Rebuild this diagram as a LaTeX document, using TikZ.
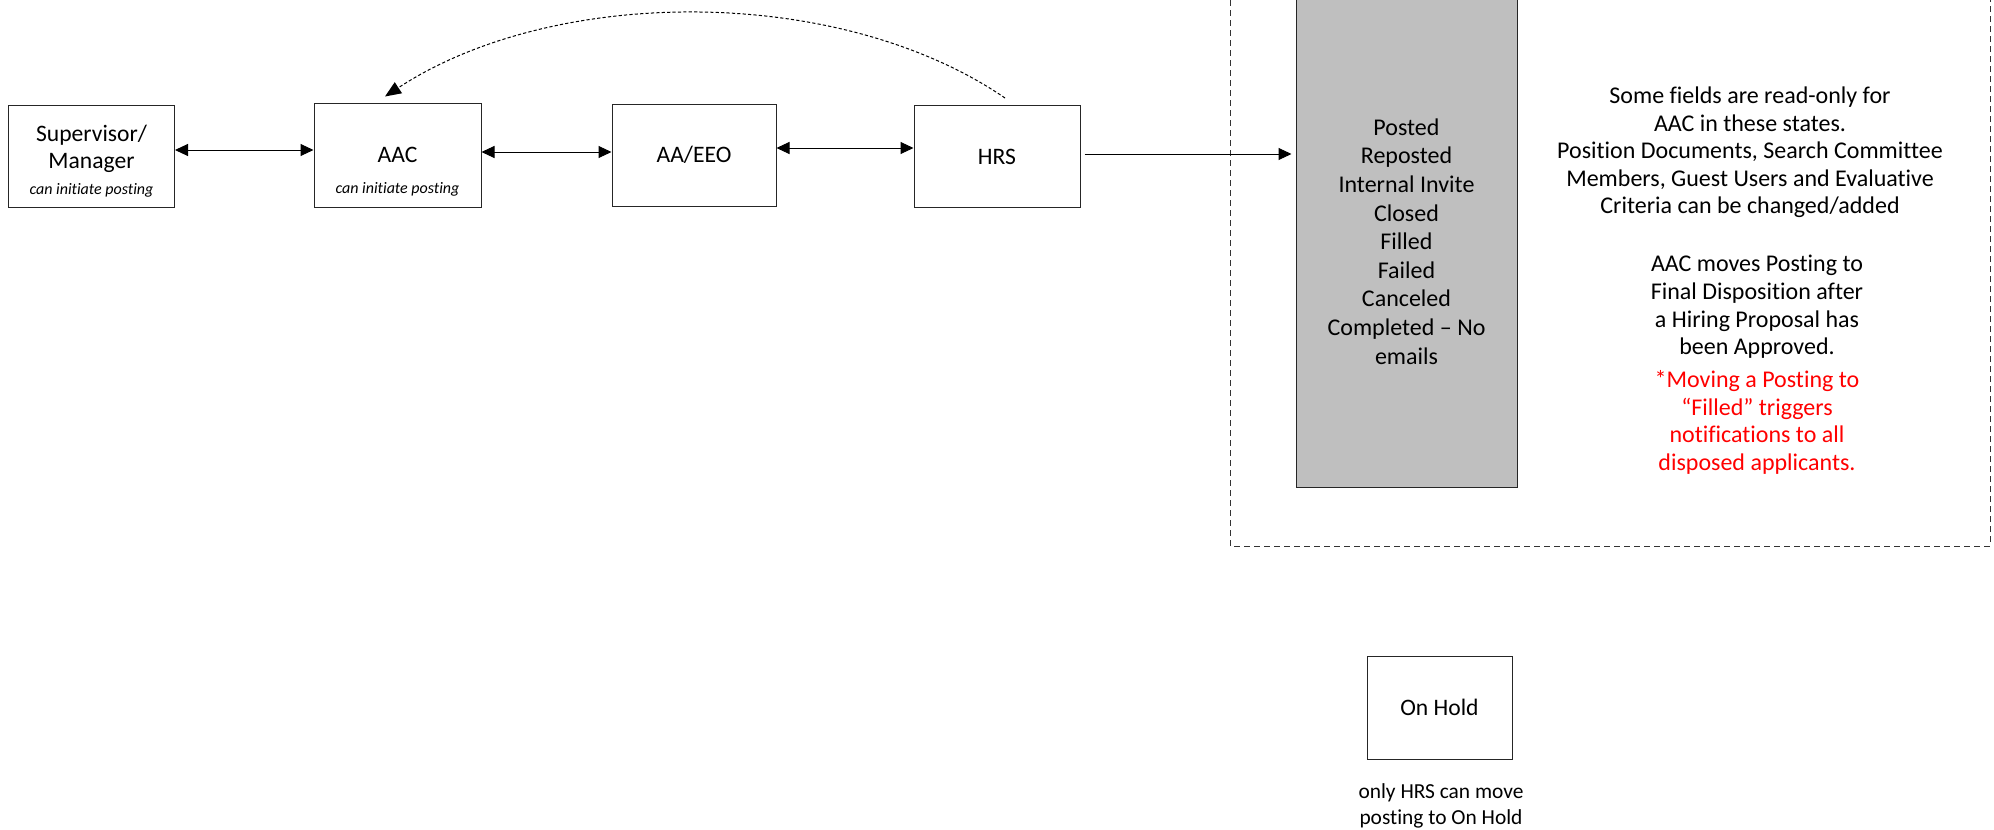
\documentclass[tikz,border=0pt]{standalone}
\usepackage{fontspec}
\setmainfont{Carlito}[Ligatures=CommonOff]
\usetikzlibrary{arrows.meta,positioning}
\definecolor{stategray}{RGB}{191,191,191}
\definecolor{notered}{RGB}{255,0,0}
\tikzset{
  role/.style={draw=black!85,line width=0.5pt,minimum width=83pt,minimum height=51pt,
    inner sep=2pt,align=center,font=\fontsize{11.8}{13.2}\selectfont},
  note/.style={align=center,font=\fontsize{12}{13.8}\selectfont},
  hint/.style={font=\fontsize{8}{9}\selectfont\itshape,inner sep=1pt},
  link/.style={{Triangle[length=6.5pt,width=6pt]}-{Triangle[length=6.5pt,width=6pt]},line width=0.5pt},
  push/.style={-{Triangle[length=6.5pt,width=6pt]},line width=0.5pt},
  back/.style={-{Triangle[length=8pt,width=6.5pt]},line width=0.5pt,dash pattern=on 1.6pt off 1.1pt}
}

\begin{document}
\begin{tikzpicture}[x=0.5pt,y=-0.5pt]
  \useasboundingbox (0,0) rectangle (1994,830);
  % posting roles
  \node[role,text depth=9.5pt] (sup) at (91.5,156.5) {Supervisor/\\Manager};
  \node[hint,above=4pt] at (sup.south) {can initiate posting};
  \node[role,minimum width=83.5pt,minimum height=52pt] (aac) at (397.5,155) {AAC};
  \node[hint,above=4.5pt] at (aac.south) {can initiate posting};
  \node[role,minimum width=82pt] (aaeeo) at (694,155) {AA/EEO};
  \node[role] (hrs) at (997,156.5) {HRS};
  % states
  \draw[line width=0.5pt,dash pattern=on 3pt off 2pt,black!80] (1230,-10) rectangle (1990,546);
  \node[draw=black!85,fill=stategray,line width=0.5pt,minimum width=110.5pt,minimum height=245.5pt,
    align=center,font=\fontsize{12}{14.3}\selectfont] (states) at (1406.5,241.5)
    {Posted\\Reposted\\Internal Invite\\Closed\\Filled\\Failed\\Canceled\\Completed -- No\\emails};
  \node[note] (readonly) at (1750,152.5) {Some fields are read-only for\\AAC in these states.\\Position Documents, Search Committee\\Members, Guest Users and Evaluative\\Criteria can be changed/added};
  \node[note] (final) at (1757,307) {AAC moves Posting to\\Final Disposition after\\a Hiring Proposal has\\been Approved.};
  \node[note,text=notered] (filled) at (1757,422.5) {*Moving a Posting to\\``Filled'' triggers\\notifications to all\\disposed applicants.};
  % on hold
  \node[role,minimum width=72.5pt,minimum height=51.5pt] (hold) at (1439.5,707.5) {On Hold};
  \node[note,font=\fontsize{10.7}{13}\selectfont] (holdnote) at (1441,806) {only HRS can move\\posting to On Hold};
  % connectors
  \draw[link] ([yshift=3.25pt]sup.east) -- ([yshift=3.25pt]sup.east -| aac.west);
  \draw[link] ([yshift=1.5pt]aac.east) -- ([yshift=1.5pt]aac.east -| aaeeo.west);
  \draw[link] ([yshift=3.5pt]aaeeo.east) -- ([yshift=3.5pt]aaeeo.east -| hrs.west);
  \draw[push,shorten <=2pt,shorten >=2pt] ([yshift=1.25pt]hrs.east) -- ([yshift=1.25pt]hrs.east -| states.west);
  \draw[back] ([xshift=4pt,yshift=3.5pt]hrs.north) .. controls (840,-15) and (555,-15) .. ([xshift=-6.25pt,yshift=3pt]aac.north);
\end{tikzpicture}
\end{document}
